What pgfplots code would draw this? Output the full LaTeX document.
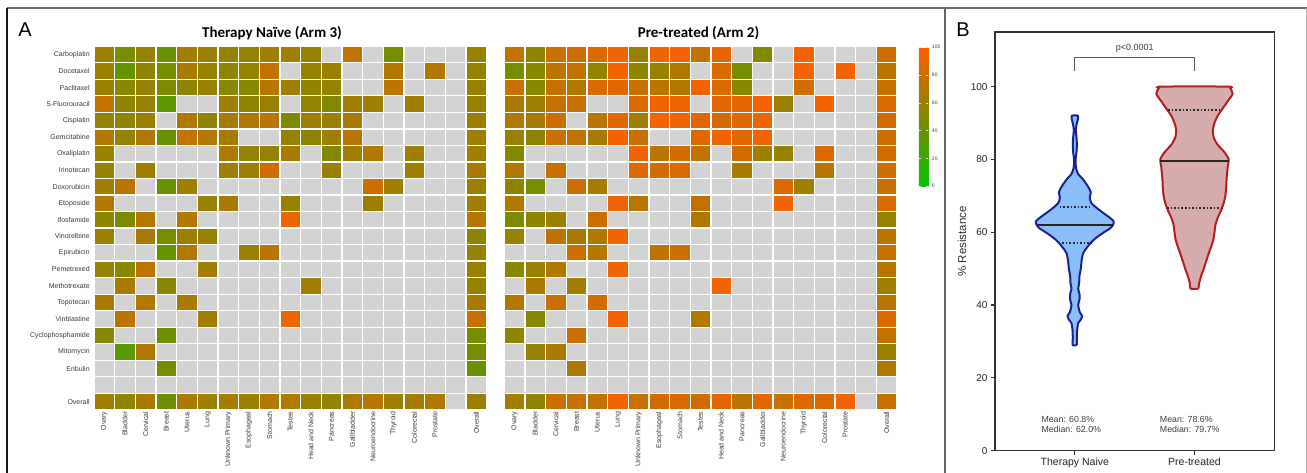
\documentclass[border=0pt]{standalone}
\usepackage{pgfplots}
\pgfplotsset{compat=1.18}
\usepackage{pgfplotstable}
\usepackage{fontspec}
\setmainfont{Liberation Sans}
\newfontfamily\calibri{Carlito}
\definecolor{cgray}{RGB}{211,211,211}
\definecolor{lbl}{RGB}{60,60,60}
\definecolor{nfill}{RGB}{140,190,250}
\definecolor{nline}{RGB}{25,35,150}
\definecolor{pfill}{RGB}{214,172,172}
\definecolor{pline}{RGB}{180,30,35}

\pgfplotstableread[row sep=\\]{
x y v\\
0 0 60\\1 0 45\\2 0 57\\3 0 40\\4 0 62\\5 0 60\\6 0 57\\7 0 57\\8 0 62\\9 0 62\\10 0 58\\12 0 75\\14 0 45\\18 0 57\\
0 1 60\\1 1 38\\2 1 55\\3 1 45\\4 1 65\\5 1 58\\6 1 55\\7 1 57\\8 1 75\\10 1 58\\11 1 60\\14 1 68\\16 1 68\\18 1 57\\
0 2 60\\1 2 52\\2 2 58\\3 2 48\\4 2 55\\5 2 58\\6 2 52\\7 2 52\\8 2 72\\9 2 62\\10 2 55\\11 2 57\\14 2 72\\18 2 58\\
0 3 75\\1 3 55\\2 3 57\\3 3 35\\6 3 62\\7 3 55\\8 3 60\\10 3 57\\11 3 50\\12 3 62\\13 3 62\\15 3 62\\18 3 58\\
0 4 57\\1 4 55\\2 4 60\\4 4 68\\5 4 55\\6 4 65\\7 4 68\\8 4 72\\9 4 48\\10 4 62\\11 4 60\\12 4 65\\18 4 60\\
0 5 70\\1 5 57\\2 5 68\\3 5 40\\4 5 75\\5 5 70\\6 5 65\\9 5 57\\10 5 55\\11 5 62\\12 5 72\\18 5 62\\
0 6 60\\6 6 68\\7 6 57\\8 6 58\\9 6 65\\11 6 50\\12 6 62\\13 6 68\\15 6 62\\18 6 62\\
0 7 57\\2 7 62\\6 7 62\\7 7 60\\8 7 82\\11 7 60\\15 7 62\\18 7 65\\
0 8 62\\1 8 72\\3 8 40\\4 8 62\\13 8 80\\14 8 62\\18 8 60\\
0 9 70\\5 9 58\\6 9 65\\9 9 57\\13 9 60\\18 9 62\\
0 10 55\\1 10 47\\2 10 70\\4 10 70\\9 10 92\\18 10 70\\
0 11 60\\2 11 65\\3 11 45\\4 11 60\\5 11 58\\18 11 55\\
3 12 38\\4 12 68\\7 12 60\\8 12 72\\18 12 58\\
0 13 57\\1 13 52\\2 13 72\\5 13 62\\18 13 60\\
1 14 65\\3 14 52\\10 14 62\\18 14 57\\
0 15 65\\2 15 68\\4 15 65\\18 15 65\\
1 16 72\\5 16 62\\9 16 92\\18 16 78\\
0 17 52\\3 17 42\\18 17 45\\
1 18 33\\2 18 68\\18 18 45\\
3 19 45\\18 19 40\\
0 21 62\\1 21 55\\2 21 65\\3 21 42\\4 21 65\\5 21 62\\6 21 64\\7 21 60\\8 21 70\\9 21 68\\10 21 60\\11 21 57\\12 21 68\\13 21 70\\14 21 62\\15 21 64\\16 21 68\\18 21 60\\
}\naive

\pgfplotstableread[row sep=\\]{
x y v\\
0 0 75\\1 0 55\\2 0 78\\3 0 80\\4 0 85\\5 0 92\\6 0 58\\7 0 92\\8 0 95\\9 0 75\\10 0 90\\12 0 50\\14 0 95\\18 0 80\\
0 1 45\\1 1 52\\2 1 72\\3 1 75\\4 1 57\\5 1 95\\6 1 55\\7 1 58\\8 1 68\\10 1 85\\11 1 45\\14 1 95\\16 1 95\\18 1 72\\
0 2 78\\1 2 52\\2 2 75\\3 2 68\\4 2 85\\5 2 88\\6 2 78\\7 2 72\\8 2 68\\9 2 95\\10 2 85\\11 2 52\\14 2 82\\18 2 78\\
0 3 65\\1 3 62\\2 3 75\\3 3 78\\6 3 85\\7 3 95\\8 3 92\\10 3 88\\11 3 90\\12 3 95\\13 3 60\\15 3 95\\18 3 85\\
0 4 68\\1 4 65\\2 4 80\\4 4 72\\5 4 88\\6 4 62\\7 4 95\\8 4 92\\9 4 88\\10 4 82\\11 4 88\\12 4 92\\18 4 82\\
0 5 60\\1 5 55\\2 5 80\\3 5 75\\4 5 65\\5 5 95\\6 5 78\\9 5 88\\10 5 95\\11 5 88\\12 5 95\\18 5 80\\
0 6 50\\6 6 95\\7 6 72\\8 6 82\\9 6 75\\11 6 82\\12 6 62\\13 6 57\\15 6 85\\18 6 82\\
0 7 68\\2 7 78\\6 7 88\\7 7 82\\8 7 85\\11 7 65\\15 7 72\\18 7 80\\
0 8 55\\1 8 45\\3 8 80\\4 8 65\\13 8 85\\14 8 62\\18 8 78\\
0 9 68\\5 9 95\\6 9 72\\9 9 75\\13 9 95\\18 9 85\\
0 10 48\\1 10 55\\2 10 60\\4 10 80\\9 10 68\\18 10 57\\
0 11 57\\2 11 72\\3 11 65\\4 11 68\\5 11 95\\18 11 72\\
3 12 80\\4 12 70\\7 12 72\\8 12 78\\18 12 78\\
0 13 52\\1 13 58\\2 13 68\\5 13 95\\18 13 72\\
1 14 65\\3 14 62\\10 14 95\\18 14 62\\
0 15 68\\2 15 78\\4 15 82\\18 15 72\\
1 16 52\\5 16 95\\9 16 70\\18 16 85\\
0 17 55\\3 17 80\\18 17 75\\
1 18 57\\2 18 65\\18 18 60\\
3 19 68\\18 19 68\\
0 21 62\\1 21 55\\2 21 78\\3 21 78\\4 21 75\\5 21 95\\6 21 78\\7 21 82\\8 21 85\\9 21 82\\10 21 88\\11 21 72\\12 21 88\\13 21 78\\14 21 85\\15 21 85\\16 21 95\\18 21 78\\
}\pretr

\pgfplotsset{
 hmap/.style={scale only axis, width=392.7pt, height=363.7pt,
  xmin=-0.5, xmax=18.5, ymin=-0.5, ymax=21.5,
  axis line style={draw=none},
  axis background/.style={fill=cgray},
  major tick length=0pt, minor tick length=0pt,
  minor xtick={-0.5,0.5,...,18.5}, minor ytick={-0.5,0.5,...,21.5},
  grid=minor, minor grid style={white, line width=1.3pt},
  xtick={0,...,18},
  xticklabels={Ovary,Bladder,Cervical,Breast,Uterus,Lung,Unknown Primary,Esophageal,Stomach,Testes,Head and Neck,Pancreas,Gallbladder,Neuroendocrine,Thyroid,Colorectal,Prostate,{},Overall},
  xticklabel style={rotate=90, anchor=east, font=\fontsize{7}{8}\selectfont, text=lbl, inner sep=1.5pt},
  yticklabel style={font=\fontsize{7}{8}\selectfont, text=lbl, inner sep=1pt, xshift=-3pt},
  colormap={rg}{rgb255=(0,200,0) rgb255=(55,170,0) rgb255=(105,145,0) rgb255=(155,128,0) rgb255=(205,110,0) rgb255=(255,95,0)},
  point meta min=0, point meta max=100},
 hm/.style={scatter, only marks, mark=square*, mark size=10.335pt, scatter src=explicit,
  mark options={yscale=0.8, line width=1.3pt}, scatter/use mapped color={draw=white, fill=mapped color}}
}

\begin{document}
\begin{tikzpicture}[x=1pt,y=1pt]
\useasboundingbox (0,0) rectangle (1307,-473);
\fill[white] (0,0) rectangle (1307,-473);

% Heatmap A1
\begin{axis}[hmap, at={(93.9pt,-46.2pt)}, anchor=north west,
  ytick={0,...,21},
  yticklabels={Overall,{},Eribulin,Mitomycin,Cyclophosphamide,Vinblastine,Topotecan,Methotrexate,Pemetrexed,Epirubicin,Vinorelbine,Ifosfamide,Etoposide,Doxorubicin,Irinotecan,Oxaliplatin,Gemcitabine,Cisplatin,5-Fluorouracil,Paclitaxel,Docetaxel,Carboplatin}]
\addplot[hm] table[x=x, y expr=21-\thisrow{y}, meta=v]{\naive};
\end{axis}

% Heatmap A2
\begin{axis}[hmap, at={(504.2pt,-46.2pt)}, anchor=north west,
  ytick={0,...,21}, yticklabels={},
  colorbar,
  colorbar style={at={(parent axis.north east)}, anchor=north west, xshift=13.5pt, yshift=-1pt,
    scale only axis, width=9.5pt, height=139pt, axis line style={draw=none},
    ytick={0,20,...,100}, major tick length=2pt, tick style={white!75!gray},
    yticklabel style={font=\fontsize{5}{6}\selectfont, text=lbl},
    /pgf/number format/assume math mode=true}]
\addplot[hm] table[x=x, y expr=21-\thisrow{y}, meta=v]{\pretr};
\end{axis}

\node[font=\calibri\bfseries\fontsize{15}{18}\selectfont] at (272,-33) {Therapy Naïve (Arm 3)};
\node[font=\calibri\bfseries\fontsize{15}{18}\selectfont] at (698.5,-33) {Pre-treated (Arm 2)};
\node[font=\fontsize{20}{24}\selectfont] at (25,-30) {A};
\node[font=\fontsize{20}{24}\selectfont] at (963,-29.5) {B};

% Panel B
\begin{axis}[at={(995pt,-450.7pt)}, anchor=south west, scale only axis, width=279.3pt, height=418.7pt,
  xmin=0.333, xmax=2.667, ymin=0, ymax=115,
  xtick={1,2}, xticklabels={Therapy Naive,Pre-treated},
  ytick={0,20,...,100},
  tick pos=left, tick align=outside, major tick length=4pt,
  axis line style={line width=1.4pt, draw=black!80},
  every tick/.style={line width=1.2pt, black!80},
  ticklabel style={font=\fontsize{10}{12}\selectfont, text=black!85},
  xticklabel style={font=\fontsize{10.5}{12}\selectfont},
  /pgf/number format/assume math mode=true,
  every axis y label/.style={at={(axis description cs:0,0.5)}, xshift=-33pt, rotate=90, anchor=center},
  ylabel={\% Resistance},
  ylabel style={font=\fontsize{11.5}{13}\selectfont, text=black!80},
  clip=false]
\addplot[draw=nline, fill=nfill, line width=2pt, smooth, tension=0.4] coordinates {
(1.017,29) (1.017,31) (1.019,33) (1.028,35) (1.050,36) (1.061,37) (1.042,38) (1.028,40) (1.039,41.5) (1.039,43) (1.028,44.5) (1.036,46) (1.039,48) (1.050,50) (1.056,52) (1.067,54) (1.083,55) (1.106,56) (1.131,57) (1.161,58) (1.200,59) (1.244,60) (1.292,61) (1.319,62) (1.325,63) (1.292,64) (1.250,65) (1.189,66.5) (1.139,68) (1.125,69.5) (1.133,71) (1.111,72.5) (1.069,74.5) (1.028,76) (1.011,77.5) (1.006,79) (1.008,80.5) (1.014,82) (1.017,84) (1.014,86) (1.008,88) (1.014,89.5) (1.025,91) (1.025,92)
(0.975,92) (0.975,91) (0.986,89.5) (0.992,88) (0.986,86) (0.983,84) (0.986,82) (0.992,80.5) (0.994,79) (0.989,77.5) (0.972,76) (0.931,74.5) (0.889,72.5) (0.867,71) (0.875,69.5) (0.861,68) (0.811,66.5) (0.750,65) (0.708,64) (0.675,63) (0.681,62) (0.708,61) (0.756,60) (0.800,59) (0.839,58) (0.869,57) (0.894,56) (0.917,55) (0.933,54) (0.944,52) (0.950,50) (0.961,48) (0.964,46) (0.972,44.5) (0.961,43) (0.961,41.5) (0.972,40) (0.958,38) (0.939,37) (0.950,36) (0.972,35) (0.981,33) (0.983,31) (0.983,29) (1.017,29)};
\addplot[draw=pline, fill=pfill, line width=2pt, smooth, tension=0.4] coordinates {
(2.033,44.5) (2.039,46) (2.056,48) (2.078,50) (2.097,52) (2.117,54) (2.139,56) (2.158,58) (2.167,60) (2.175,62) (2.194,64) (2.222,66) (2.244,68) (2.258,70) (2.264,72) (2.269,75) (2.278,78) (2.286,80) (2.250,82) (2.194,84) (2.161,86) (2.153,88) (2.167,90) (2.194,92) (2.236,94) (2.278,96) (2.319,98) (2.300,99.5) (2.278,100)
(1.722,100) (1.700,99.5) (1.681,98) (1.722,96) (1.764,94) (1.806,92) (1.833,90) (1.847,88) (1.839,86) (1.806,84) (1.750,82) (1.714,80) (1.722,78) (1.731,75) (1.736,72) (1.742,70) (1.756,68) (1.778,66) (1.806,64) (1.825,62) (1.833,60) (1.842,58) (1.861,56) (1.883,54) (1.903,52) (1.922,50) (1.944,48) (1.961,46) (1.967,44.5) (2.033,44.5)};
\addplot[black!85, line width=2pt] coordinates {(0.683,62) (1.317,62)};
\addplot[black!85, line width=1.6pt, dotted] coordinates {(0.875,67) (1.125,67)};
\addplot[black!85, line width=1.6pt, dotted] coordinates {(0.865,57) (1.14,57)};
\addplot[black!85, line width=2pt] coordinates {(1.712,79.7) (2.288,79.7)};
\addplot[black!85, line width=1.6pt, dotted] coordinates {(1.78,93.5) (2.22,93.5)};
\addplot[black!85, line width=1.6pt, dotted] coordinates {(1.77,66.7) (2.23,66.7)};
\addplot[black!65, line width=1.1pt] coordinates {(1,104.4) (1,108) (2,108) (2,104.4)};
\node[font=\fontsize{9}{11}\selectfont, text=lbl] at (axis cs:1.5,110.6) {p<0.0001};
\node[font=\fontsize{8.8}{10.4}\selectfont, text=lbl, align=left, anchor=west, inner sep=0pt] at (axis cs:0.72,7.15) {Mean: 60.8\%\\Median: 62.0\%};
\node[font=\fontsize{8.8}{10.4}\selectfont, text=lbl, align=left, anchor=west, inner sep=0pt] at (axis cs:1.71,7.15) {Mean: 78.6\%\\Median: 79.7\%};
\end{axis}

% frames
\draw[black!60, line width=1.5pt] (7,-8) -- (1307,-8);
\draw[black!90, line width=2pt] (7,-8) -- (7,-473);
\draw[black!60, line width=2pt] (945,-8) -- (945,-473);
\draw[black!30, line width=1pt] (1306,-8) -- (1306,-473);
\end{tikzpicture}
\end{document}
